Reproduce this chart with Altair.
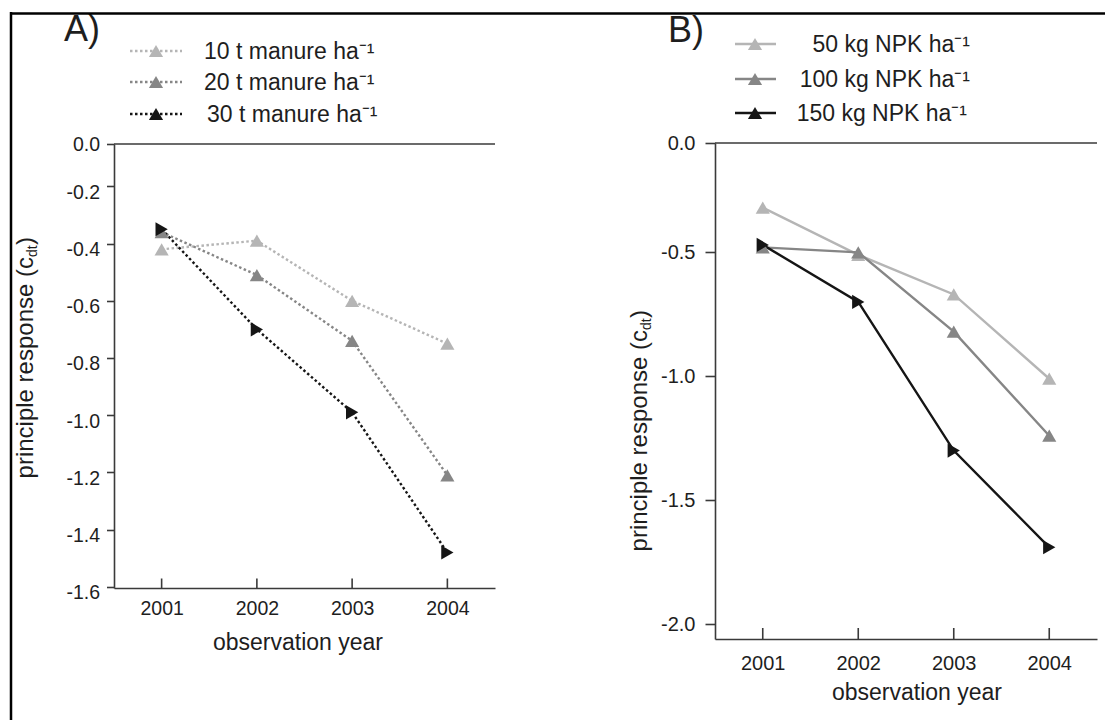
import altair as alt
import pandas as pd

# ---- data -----------------------------------------------------------------
years = [2001, 2002, 2003, 2004]

manure_series = ["10 t manure ha⁻¹", "20 t manure ha⁻¹", "30 t manure ha⁻¹"]
manure_10t = [-0.42, -0.39, -0.60, -0.75]
manure_20t = [-0.36, -0.51, -0.74, -1.21]
manure_30t = [-0.35, -0.70, -0.99, -1.48]

npk_series = ["50 kg NPK ha⁻¹", "100 kg NPK ha⁻¹", "150 kg NPK ha⁻¹"]
npk_50 = [-0.32, -0.51, -0.67, -1.01]
npk_100 = [-0.48, -0.50, -0.82, -1.24]
npk_150 = [-0.47, -0.70, -1.30, -1.69]

y_ticks_a = [-0.2, -0.4, -0.6, -0.8, -1.0, -1.2, -1.4, -1.6]
y_ticks_b = [-0.5, -1.0, -1.5, -2.0]

series_colors = ["#b5b5b5", "#868686", "#151515"]
series_shapes = ["triangle-up", "triangle-up", "triangle-right"]

FONT = "Liberation Sans"
AXIS_COL = "#3a3a3a"
TEXT_COL = "#1e1e1e"
W, H = 1105, 720
MARKER = 200


def long_frame(names, columns):
    rows = []
    for name, vals in zip(names, columns):
        for yr, v in zip(years, vals):
            rows.append({"series": name, "year": yr, "value": v})
    return pd.DataFrame(rows)


df_a = long_frame(manure_series, [manure_10t, manure_20t, manure_30t])
df_b = long_frame(npk_series, [npk_50, npk_100, npk_150])

color_scale = alt.Scale(domain=manure_series + npk_series, range=series_colors * 2)
shape_scale = alt.Scale(domain=manure_series + npk_series, range=series_shapes * 2)


def panel(df, x_range, y_range, y_domain, y_ticks, label_size, y_tick_size,
          y_label_pad, y_label_offset, x_label_pad, x_tick_len, line_props):
    """One panel: lines + markers on its own x/y scales, axes placed on the canvas."""
    top = y_domain[1]
    bottom = y_domain[0]
    x_enc = alt.X(
        "year:Q",
        scale=alt.Scale(domain=[2000.5, 2004.5], range=x_range, nice=False, zero=False),
        axis=alt.Axis(
            orient="bottom", offset=-(H - y_range[0]), values=years, format="d",
            ticks=False, tickSize=0, labelPadding=x_label_pad, labelBaseline="alphabetic",
            labelFont=FONT, labelFontSize=label_size, labelColor=TEXT_COL,
            labelFlush=False, labelOverlap=False,
            domainColor=AXIS_COL, domainWidth=1.6, grid=False, title=None,
        ),
    )
    y_enc = alt.Y(
        "value:Q",
        scale=alt.Scale(domain=y_domain, range=y_range, nice=False, zero=False),
        axis=alt.Axis(
            orient="left", offset=-x_range[0], values=[top] + y_ticks, format=".1f",
            labelExpr="datum.value > -0.1 ? '0.0' : replace(datum.label, '\u2212', '-')",
            tickSize=y_tick_size, tickColor=AXIS_COL, tickWidth=1.6,
            labelPadding=y_label_pad, labelOffset=y_label_offset,
            labelFont=FONT, labelFontSize=label_size, labelColor=TEXT_COL,
            labelFlush=False, labelOverlap=False,
            domainColor=AXIS_COL, domainWidth=1.6, grid=False, title=None,
        ),
    )

    lines = alt.Chart(df).mark_line(strokeWidth=2.4, **line_props).encode(
        x=x_enc, y=y_enc,
        color=alt.Color("series:N", scale=color_scale, legend=None),
    )
    points = alt.Chart(df).mark_point(filled=True, size=MARKER, opacity=1).encode(
        x=x_enc, y=y_enc,
        color=alt.Color("series:N", scale=color_scale, legend=None),
        shape=alt.Shape("series:N", scale=shape_scale, legend=None),
    )
    # inward-pointing x ticks
    tick_df = pd.DataFrame({"year": years, "value": [bottom] * len(years)})
    x_ticks = alt.Chart(tick_df).mark_rule(
        color=AXIS_COL, strokeWidth=1.6, y2Offset=-x_tick_len
    ).encode(x=x_enc, y=y_enc, y2=alt.Y2("value"))
    # frame line along the top of the plot
    top_df = pd.DataFrame({"year": [2000.5], "year_end": [2004.5], "value": [top]})
    top_line = alt.Chart(top_df).mark_rule(color=AXIS_COL, strokeWidth=1.6).encode(
        x=x_enc, x2=alt.X2("year_end"), y=y_enc
    )
    return alt.layer(lines, points, x_ticks, top_line)


panel_a = panel(
    df_a, x_range=[114, 495], y_range=[588, 144], y_domain=[-1.604, -0.052],
    y_ticks=y_ticks_a, label_size=19.5, y_tick_size=7.5, y_label_pad=7,
    y_label_offset={"condition": {"test": "datum.value > -0.1", "value": 0}, "value": 6},
    x_label_pad=26, x_tick_len=9.5, line_props={"strokeDash": [2.5, 2.5]},
)
panel_b = panel(
    df_b, x_range=[715, 1097], y_range=[639, 143], y_domain=[-2.06, -0.059],
    y_ticks=y_ticks_b, label_size=20, y_tick_size=10, y_label_pad=10,
    y_label_offset=0, x_label_pad=30, x_tick_len=11, line_props={},
)

one = pd.DataFrame({"k": [0]})


def text(label, x, y, size, align="left", baseline="alphabetic", angle=0):
    props = dict(align=align, baseline=baseline, font=FONT, fontSize=size, color=TEXT_COL)
    if angle:
        props["angle"] = angle
    return alt.Chart(pd.DataFrame({"label": [label]})).mark_text(**props).encode(
        x=alt.value(x), y=alt.value(y), text="label:N"
    )


def legend(names, rows, x0, x1, xm, text_x, align, dash):
    layers = []
    for i, (name, row) in enumerate(zip(names, rows)):
        rule_props = dict(color=series_colors[i], strokeWidth=2.4)
        if dash:
            rule_props["strokeDash"] = dash
        layers.append(alt.Chart(one).mark_rule(**rule_props).encode(
            x=alt.value(x0), x2=alt.value(x1), y=alt.value(row)))
        layers.append(alt.Chart(one).mark_point(
            shape="triangle-up", filled=True, size=MARKER, opacity=1, color=series_colors[i]
        ).encode(x=alt.value(xm), y=alt.value(row)))
        layers.append(text(name, text_x[i], row + 8, 23, align=align))
    return layers


legend_a = legend(manure_series, [51, 82, 114], 130, 182, 156, [204, 204, 207], "left", [2.5, 2.5])
legend_b = legend(npk_series, [44, 79, 113], 735, 776, 755, [970, 970, 967], "right", None)


def y_title(base_x, split_y):
    """Rotated axis title with a subscripted 'dt'."""
    return [
        text("principle response (c", base_x, split_y, 24, align="right", angle=270),
        text("dt", base_x + 4, split_y, 14, align="left", angle=270),
        text(")", base_x, split_y - 12, 24, align="left", angle=270),
    ]


annotations = [
    text("A)", 64, 41, 36),
    text("B)", 668, 42, 36),
    text("observation year", 298, 650, 23, align="center"),
    text("observation year", 917, 700, 23, align="center"),
    *y_title(33, 257),
    *y_title(647, 330),
]

# outer frame: top edge and left edge
frame = [
    alt.Chart(one).mark_rule(color="black", strokeWidth=2.5).encode(
        x=alt.value(10), x2=alt.value(W), y=alt.value(13.5)),
    alt.Chart(one).mark_rule(color="black", strokeWidth=2.5).encode(
        x=alt.value(11), y=alt.value(12), y2=alt.value(H)),
]

chart = alt.layer(
    panel_a, panel_b, *legend_a, *legend_b, *annotations, *frame
).resolve_scale(
    x="independent", y="independent"
).properties(
    width=W, height=H, autosize=alt.AutoSizeParams(type="none"), padding=0,
    background="white",
).configure_view(stroke=None)

chart.save("out.html", embed_options={"renderer": "svg", "actions": False})
